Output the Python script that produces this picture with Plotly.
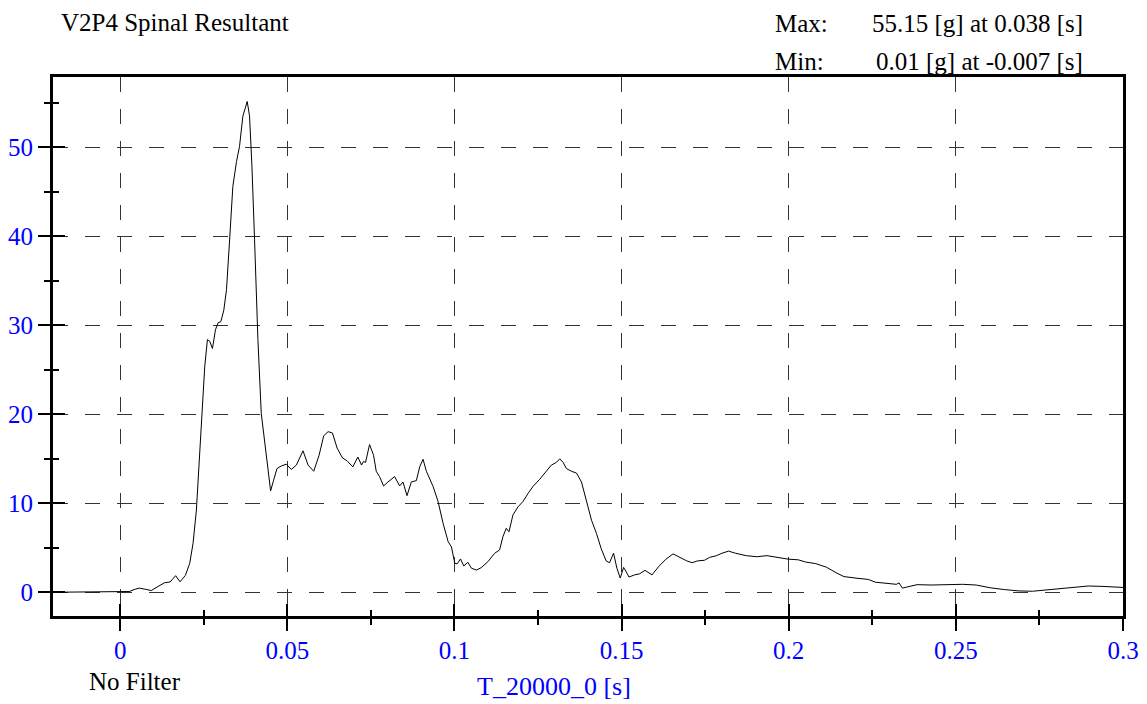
import plotly.graph_objects as go

# V2P4 spinal resultant acceleration
time_s = [
    -0.02, -0.007, 0.0, 0.0027, 0.0045, 0.0057, 0.0075, 0.0093, 0.0113, 0.0133,
    0.0149, 0.0166, 0.0179, 0.0195, 0.0208, 0.0218, 0.0228, 0.0236, 0.0243, 0.0253,
    0.0261, 0.0268, 0.0276, 0.0285, 0.0293, 0.0301, 0.031, 0.0318, 0.0328, 0.0337,
    0.0348, 0.0357, 0.0367, 0.038, 0.0387, 0.0394, 0.0402, 0.0412, 0.0422, 0.0435,
    0.0443, 0.045, 0.0459, 0.0469, 0.0482, 0.0497, 0.0512, 0.0527, 0.0547, 0.0562,
    0.0579, 0.0595, 0.0609, 0.0622, 0.0635, 0.0649, 0.0665, 0.0678, 0.0696, 0.0711,
    0.0722, 0.0728, 0.0734, 0.0746, 0.0758, 0.0766, 0.0776, 0.0788, 0.0801, 0.0821,
    0.0836, 0.0846, 0.0858, 0.0871, 0.0886, 0.0896, 0.0906, 0.0916, 0.0936, 0.0951,
    0.0966, 0.0981, 0.0991, 0.1001, 0.1008, 0.1018, 0.1028, 0.104, 0.1051, 0.1066,
    0.108, 0.11, 0.112, 0.1135, 0.1145, 0.1155, 0.1163, 0.1175, 0.119, 0.1205,
    0.122, 0.1235, 0.1255, 0.1275, 0.129, 0.1305, 0.1315, 0.1325, 0.1335, 0.135,
    0.1365, 0.138, 0.1395, 0.141, 0.1425, 0.1439, 0.1454, 0.1464, 0.1476, 0.1486,
    0.1496, 0.1506, 0.1514, 0.1522, 0.1539, 0.1554, 0.157, 0.1591, 0.1612, 0.1633,
    0.1654, 0.1669, 0.1685, 0.1695, 0.1711, 0.1727, 0.1748, 0.1763, 0.1784, 0.18,
    0.182, 0.1841, 0.1873, 0.1904, 0.1935, 0.1967, 0.1998, 0.2029, 0.205, 0.2081,
    0.2113, 0.2144, 0.2165, 0.2207, 0.2238, 0.2259, 0.229, 0.2322, 0.233, 0.234,
    0.2353, 0.2384, 0.2426, 0.2478, 0.252, 0.2561, 0.2603, 0.2645, 0.2687, 0.2729,
    0.277, 0.2812, 0.2854, 0.2896, 0.2937, 0.2997, 0.3,
]
accel_g = [
    0.01, 0.01, 0.03, 0.09, 0.35, 0.47, 0.35, 0.2, 0.65, 1.08,
    1.16, 1.87, 1.18, 1.9, 3.26, 5.5, 9.25, 14.0, 19.0, 25.4,
    28.4, 28.2, 27.4, 29.5, 30.3, 30.4, 31.7, 34.0, 40.0, 45.6,
    48.4, 50.1, 53.5, 55.15, 53.5, 48.0, 39.6, 28.4, 20.1, 16.0,
    13.0, 11.4, 12.6, 13.9, 14.2, 14.4, 13.8, 14.3, 15.9, 14.3,
    13.6, 15.4, 17.6, 18.05, 17.9, 16.2, 15.1, 14.8, 14.1, 15.2,
    14.3, 14.7, 14.6, 16.6, 15.4, 13.6, 13.0, 11.95, 12.4, 13.0,
    11.95, 12.4, 10.86, 12.4, 12.55, 14.1, 14.95, 13.6, 11.9, 10.2,
    7.75, 5.7, 5.1, 3.26, 3.2, 3.75, 2.96, 3.37, 2.7, 2.5,
    2.77, 3.44, 4.38, 4.76, 6.25, 7.2, 6.8, 8.7, 9.6, 10.2,
    11.1, 11.9, 12.7, 13.56, 14.3, 14.6, 15.0, 14.6, 13.9, 13.6,
    13.4, 12.4, 10.4, 8.1, 6.6, 4.9, 3.52, 3.33, 4.4, 2.7,
    1.6, 2.8, 2.3, 1.72, 1.96, 2.08, 2.47, 1.96, 2.94, 3.73,
    4.32, 4.04, 3.8, 3.53, 3.33, 3.53, 3.6, 3.92, 4.12, 4.39,
    4.63, 4.39, 4.12, 4.0, 4.12, 3.92, 3.73, 3.65, 3.41, 3.22,
    2.82, 2.16, 1.77, 1.57, 1.45, 1.14, 1.06, 0.9, 1.06, 0.47,
    0.59, 0.86, 0.82, 0.86, 0.9, 0.82, 0.51, 0.31, 0.16, 0.12,
    0.27, 0.47, 0.63, 0.71, 0.67, 0.55, 0.55,
]

x_ticks = [0, 0.05, 0.1, 0.15, 0.2, 0.25, 0.3]
x_labels = ["0", "0.05", "0.1", "0.15", "0.2", "0.25", "0.3"]
x_minor = [0.025, 0.075, 0.125, 0.175, 0.225, 0.275]
y_ticks = [0, 10, 20, 30, 40, 50]
y_labels = ["0", "10", "20", "30", "40", "50"]
y_minor = [5, 15, 25, 35, 45, 55]

x_range = [-0.0201, 0.3]
y_range = [-2.66, 57.9]

serif = "Liberation Serif"
blue = "#0000ff"

fig = go.Figure()

# invisible copy on the overlay axes so they get drawn
fig.add_trace(go.Scatter(
    x=time_s, y=accel_g, mode="lines", opacity=0,
    xaxis="x2", yaxis="y2", showlegend=False, hoverinfo="skip",
))
fig.add_trace(go.Scatter(
    x=time_s, y=accel_g,
    mode="lines", line=dict(color="black", width=1),
    showlegend=False, hoverinfo="skip",
))

# main axes: frame, grid, labels and outer half of the ticks
common = dict(
    showline=True, linecolor="black", linewidth=3, mirror=True,
    ticks="outside", tickwidth=2, ticklen=12, tickcolor="black",
    showgrid=True, gridcolor="#333333", gridwidth=1, griddash="15px,17px",
    zeroline=False, tickmode="array", automargin=False,
    tickfont=dict(family=serif, size=25, color=blue),
)
fig.update_layout(
    xaxis=dict(
        common, range=x_range, tickvals=x_ticks, ticktext=x_labels,
        ticklabelstandoff=-2,
        minor=dict(tickvals=x_minor, ticks="outside", ticklen=6, tickwidth=2,
                   tickcolor="black", showgrid=False),
    ),
    yaxis=dict(
        common, range=y_range, tickvals=y_ticks, ticktext=y_labels,
        ticklabelstandoff=0,
        minor=dict(tickvals=y_minor, ticks="outside", ticklen=6, tickwidth=2,
                   tickcolor="black", showgrid=False),
    ),
)

# overlay axes: inner half of the ticks so they cross the frame
inner = dict(
    showline=False, showgrid=False, zeroline=False, showticklabels=False,
    ticks="inside", tickwidth=2, ticklen=12, tickcolor="black", tickmode="array",
    automargin=False,
)
fig.update_layout(
    xaxis2=dict(
        inner, overlaying="x", anchor="y", side="bottom", range=x_range,
        tickvals=x_ticks,
        minor=dict(tickvals=x_minor, ticks="inside", ticklen=6, tickwidth=2,
                   tickcolor="black", showgrid=False),
    ),
    yaxis2=dict(
        inner, overlaying="y", anchor="x", side="left", range=y_range,
        tickvals=y_ticks,
        minor=dict(tickvals=y_minor, ticks="inside", ticklen=6, tickwidth=2,
                   tickcolor="black", showgrid=False),
    ),
)

txt = dict(family=serif, size=25, color="black")
notes = [
    dict(text="V2P4 Spinal Resultant", x=0.0055, y=1.1016, xanchor="left", font=txt),
    dict(text="Max:", x=0.673, y=1.0995, xanchor="left", font=txt),
    dict(text="55.15 [g] at 0.038 [s]", x=0.9645, y=1.0995, xanchor="right", font=txt),
    dict(text="Min:", x=0.673, y=1.028, xanchor="left", font=txt),
    dict(text="0.01 [g] at -0.007 [s]", x=0.9645, y=1.028, xanchor="right", font=txt),
    dict(text="No Filter", x=0.032, y=-0.122, xanchor="left", font=txt),
    dict(text="T_20000_0 [s]", x=0.468, y=-0.13, xanchor="center",
         font=dict(family=serif, size=26, color=blue)),
]
for n in notes:
    fig.add_annotation(xref="paper", yref="paper", yanchor="middle",
                       showarrow=False, **n)

# the page body adds an 8px offset, so the figure is sized to fit inside it
fig.update_layout(
    width=1139, height=696,
    margin=dict(l=45, r=24, t=69, b=88),
    paper_bgcolor="white", plot_bgcolor="white",
    showlegend=False,
)

fig.write_html("out.html")
